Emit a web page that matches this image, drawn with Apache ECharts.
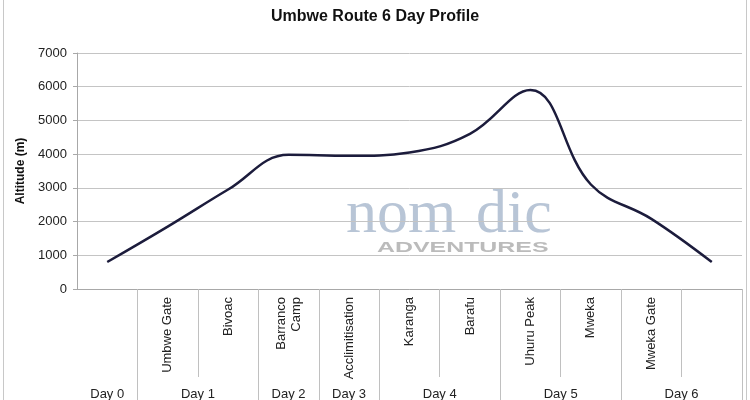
<!DOCTYPE html>
<html>
<head>
<meta charset="utf-8">
<script src="https://cdn.jsdelivr.net/npm/echarts@6/dist/echarts.min.js"></script>
<style>html,body{margin:0;padding:0;background:#fff}#c{width:750px;height:400px}</style>
</head>
<body>
<div id="c"></div>
<script>
var stops = ['', 'Umbwe Gate', 'Bivoac', 'Barranco\nCamp', 'Acclimitisation', 'Karanga', 'Barafu', 'Uhuru Peak', 'Mweka', 'Mweka Gate', ''];
var stopDays = ['Day 0', 'Day 1', 'Day 1', 'Day 2', 'Day 3', 'Day 4', 'Day 4', 'Day 5', 'Day 5', 'Day 6', 'Day 6'];
var altitude = [800, 1850, 2950, 3980, 3950, 4050, 4600, 5900, 3100, 2080, 800];
var yTicks = [0, 1000, 2000, 3000, 4000, 5000, 6000, 7000];

// build day groups from stopDays
var groups = [];
stopDays.forEach(function (d, i) {
  var g = groups[groups.length - 1];
  if (g && g.name === d) { g.end = i; }
  else { groups.push({ name: d, start: i, end: i }); }
});
var dayCenters = groups.map(function (g) { return (g.start + g.end + 1) / 2; });
var dayBounds = groups.map(function (g) { return g.end + 1; });

var font = 'Liberation Sans, Arial, sans-serif';
var chart = echarts.init(document.getElementById('c'));
chart.setOption({
  backgroundColor: '#fff',
  animation: false,
  title: {
    text: 'Umbwe Route 6 Day Profile',
    left: 'center', top: 4,
    textStyle: { fontFamily: font, fontSize: 16, fontWeight: 'bold', color: '#111' }
  },
  graphic: [
    { type: 'rect', shape: { x: 3.5, y: -5, width: 743, height: 415 }, style: { fill: 'none', stroke: '#c8c8c8', lineWidth: 1 }, silent: true },
    { type: 'text', left: 346, top: 185, z: 0, style: { text: 'nom', font: '62px "Liberation Serif", serif', fill: 'rgba(160,178,200,0.75)' } },
    { type: 'text', left: 476, top: 185, z: 0, style: { text: 'dic', font: '62px "Liberation Serif", serif', fill: 'rgba(160,178,200,0.75)' } },
    { type: 'text', x: 377, y: 240, scaleX: 1.66, z: 0, style: { text: 'ADVENTURES', font: 'bold 15px "Liberation Sans", sans-serif', fill: 'rgba(170,170,170,0.8)' } }
  ],
  grid: { left: 77, right: 8, top: 53, bottom: 111, containLabel: false, outerBoundsMode: 'none' },
  xAxis: [{
    type: 'category',
    data: stops,
    boundaryGap: true,
    axisLine: { lineStyle: { color: '#a8a8a8' } },
    axisTick: { show: true, length: 88, interval: function (i) { return i !== 0; }, lineStyle: { color: '#c0c0c0' } },
    axisLabel: { interval: 0, rotate: 90, margin: 8, fontFamily: font, fontSize: 13, color: '#222', lineHeight: 15 }
  }, {
    type: 'value',
    position: 'bottom',
    min: 0, max: stops.length,
    axisLine: { show: false },
    splitLine: { show: false },
    axisTick: { show: true, length: 120, customValues: dayBounds, lineStyle: { color: '#c0c0c0' } },
    axisLabel: {
      customValues: dayCenters, margin: 99,
      fontFamily: font, fontSize: 13, color: '#222',
      formatter: function (v) {
        var k = dayCenters.indexOf(v);
        return k >= 0 ? groups[k].name : '';
      }
    }
  }],
  yAxis: {
    type: 'value',
    min: yTicks[0], max: yTicks[yTicks.length - 1], interval: 1000,
    name: 'Altitude (m)', nameLocation: 'middle', nameRotate: 90, nameGap: 44,
    nameTextStyle: { fontFamily: font, fontSize: 12, fontWeight: 'bold', color: '#111' },
    axisLine: { show: true, lineStyle: { color: '#a8a8a8' } },
    axisTick: { show: true, length: 4, lineStyle: { color: '#a8a8a8' } },
    axisLabel: { margin: 10, fontFamily: font, fontSize: 13, color: '#222', formatter: function (v) { return String(v); } },
    splitLine: { lineStyle: { color: '#c4c4c4' } }
  },
  series: [{
    type: 'line',
    data: altitude,
    smooth: 0.4,
    symbol: 'none',
    lineStyle: { color: '#1c1c3c', width: 2.5 },
    z: 5
  }]
});
</script>
</body>
</html>
